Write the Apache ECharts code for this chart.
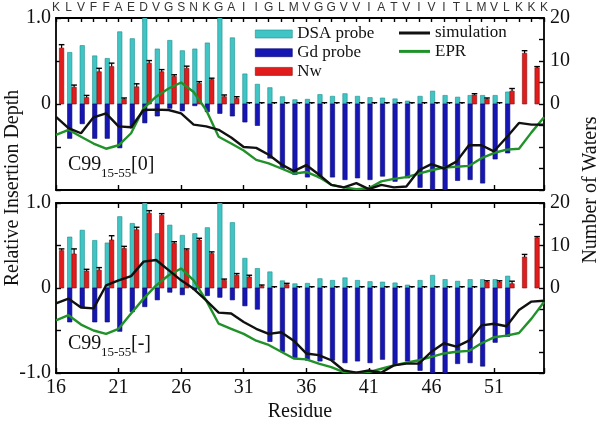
<!DOCTYPE html>
<html><head><meta charset="utf-8">
<script src="https://cdn.jsdelivr.net/npm/echarts@6/dist/echarts.min.js"></script>
<style>html,body{margin:0;padding:0;background:#fff}#c{width:600px;height:425px}</style>
</head><body><div id="c"></div>
<script>
// ---- data (residues 16..55) ----
const residues = [16,17,18,19,20,21,22,23,24,25,26,27,28,29,30,31,32,33,34,35,36,37,38,39,40,41,42,43,44,45,46,47,48,49,50,51,52,53,54,55];
const sequence = ['K','L','V','F','F','A','E','D','V','G','S','N','K','G','A','I','I','G','L','M','V','G','G','V','V','I','A','T','V','I','V','I','T','L','M','V','L','K','K','K'];
const xTickLabels = [16,21,26,31,36,41,46,51];
const leftTickLabelsTop = {'1': '1.0', '0': '0'};
const leftTickLabelsBottom = {'1': '1.0', '0': '0', '-1': '-1.0'};
const rightTickLabels = {'20': '20', '10': '10', '0': '0'};

const dsaProbe = [null,0.60,0.68,0.56,0.53,0.84,0.76,1.0,0.64,0.74,0.62,0.64,0.71,1.0,0.77,0.35,0.23,0.19,0.085,0.05,0.055,0.11,0.09,0.12,0.09,0.075,0.07,0.06,0.035,0.09,0.15,0.10,0.08,0.10,0.10,0.10,0.14,null,null,null];
const gdProbe = [null,-0.40,-0.23,-0.40,-0.40,-0.51,-0.28,-0.22,-0.14,-0.05,-0.08,-0.02,-0.09,-0.11,-0.14,-0.21,-0.25,-0.63,-0.75,-0.82,-0.85,-0.86,-0.85,-0.88,-0.86,-0.88,-0.84,-0.90,-0.86,-0.97,-1.0,-1.0,-0.89,-0.88,-0.92,-0.64,-0.57,null,null,null];

const nwTop = [13.0,3.9,1.5,7.5,8.7,1.1,4.0,9.5,7.5,6.4,8.3,4.8,5.7,1.7,1.3,0,0,0,0,0,0,0,0,0,0,0,0,0,0,0,0,0,0,2.1,1.1,0,3.0,11.8,8.4,null];
const nwTopErr = [0.8,0.5,0.5,0.8,0.8,0.3,0.7,0.6,0.5,0.4,0.5,0.4,0.3,0.4,0.4,0.3,0.3,0.3,0.3,0.3,0.3,0.3,0.3,0.3,0.3,0.3,0.3,0.3,0.3,0.3,0.3,0.3,0.3,0.3,0.3,0.3,0.6,0.6,0.3,null];
const nwBottom = [8.8,8.0,4.0,4.2,11.3,9.3,13.7,17.6,17.1,10.5,8.9,11.3,8.1,1.8,3.0,2.6,0.4,0,0.8,0,0,0,0,0,0,0,0,0,0,0,0,0,0,0,1.4,1.4,1.0,7.3,11.8,null];
const nwBottomErr = [0.4,1.2,0.4,0.6,1.0,0.5,0.6,0.6,0.4,0.4,0.3,0.4,0.4,0.3,0.4,0.4,0.3,0.3,0.3,0.3,0.3,0.3,0.3,0.3,0.3,0.3,0.3,0.3,0.3,0.3,0.3,0.3,0.3,0.3,0.3,0.3,0.6,0.6,0.3,null];

const simTop = [-0.15,-0.28,-0.34,-0.155,-0.11,-0.26,-0.27,-0.07,-0.065,-0.07,-0.11,-0.24,-0.26,-0.30,-0.39,-0.50,-0.51,-0.59,-0.70,-0.78,-0.71,-0.82,-0.94,-0.97,-0.92,-0.99,-0.94,-0.97,-0.96,-0.77,-0.70,-0.75,-0.67,-0.48,-0.48,-0.55,-0.39,-0.22,-0.24,-0.24];
const eprTop = [-0.36,-0.30,-0.38,-0.46,-0.52,-0.48,-0.34,-0.05,0.085,0.18,0.25,0.14,-0.07,-0.38,-0.46,-0.54,-0.65,-0.69,-0.75,-0.81,-0.79,-0.85,-0.94,-0.97,-0.99,-0.98,-0.90,-0.87,-0.85,-0.81,-0.77,-0.74,-0.73,-0.72,-0.63,-0.57,-0.53,-0.52,-0.33,-0.155];
const simBottom = [-0.18,-0.125,-0.23,-0.24,0.03,0.09,0.14,0.31,0.33,0.21,0.09,-0.01,-0.145,-0.29,-0.30,-0.40,-0.48,-0.54,-0.52,-0.62,-0.77,-0.79,-0.85,-0.97,-0.995,-0.97,-0.995,-0.91,-0.89,-0.89,-0.75,-0.65,-0.69,-0.62,-0.44,-0.42,-0.45,-0.26,-0.16,-0.15];
const eprBottom = [-0.38,-0.32,-0.43,-0.50,-0.54,-0.48,-0.30,-0.125,0.03,0.15,0.23,0.09,-0.145,-0.42,-0.48,-0.54,-0.62,-0.67,-0.75,-0.83,-0.84,-0.89,-0.93,-0.99,-0.995,-0.99,-0.95,-0.91,-0.88,-0.85,-0.81,-0.77,-0.75,-0.74,-0.65,-0.58,-0.56,-0.53,-0.36,-0.165];

// ---- styles ----
const SERIF = 'Liberation Serif';
const SANS = 'Liberation Sans';
const CYAN = '#40c4c4', CYAN_EDGE = '#1e8e8e';
const BLUE = '#1616b4', BLUE_EDGE = '#0a0a6e';
const RED = '#e01c1c', RED_EDGE = '#8c0c0c';
const GREEN = '#21922a';
const BAR_W = 4.4, DEPTH_OFF = 1.2, NW_OFF = 5.6;

function pairs(arr) { return residues.map((r, i) => [r, arr[i]]).filter(d => d[1] != null); }
function triples(arr, err) { return residues.map((r, i) => [r, arr[i], err[i]]).filter(d => d[1] != null); }

function depthBar(fill, edge) {
  return function (params, api) {
    const x = api.value(0), v = api.value(1);
    const p0 = api.coord([x, 0]), p1 = api.coord([x, v]);
    const cx = p0[0] + DEPTH_OFF;
    return {type: 'rect', shape: {x: cx - BAR_W / 2, y: Math.min(p0[1], p1[1]), width: BAR_W, height: Math.abs(p1[1] - p0[1])},
      style: {fill: fill, stroke: edge, lineWidth: 0.6}};
  };
}
function nwBar(params, api) {
  const x = api.value(0), v = api.value(1), e = api.value(2);
  const p0 = api.coord([x, 0]), p1 = api.coord([x, v]), p2 = api.coord([x, v + e]);
  const cx = p0[0] + NW_OFF;
  const children = [];
  if (Math.abs(p0[1] - p1[1]) > 0.2) {
    children.push({type: 'rect', shape: {x: cx - BAR_W / 2, y: p1[1], width: BAR_W, height: p0[1] - p1[1]},
      style: {fill: RED, stroke: RED_EDGE, lineWidth: 0.6}});
  }
  children.push({type: 'line', shape: {x1: cx, y1: p1[1], x2: cx, y2: p2[1]}, style: {stroke: '#000', lineWidth: 1.2}});
  children.push({type: 'line', shape: {x1: cx - BAR_W / 2 - 0.6, y1: p2[1], x2: cx + BAR_W / 2 + 0.6, y2: p2[1]}, style: {stroke: '#000', lineWidth: 1.4}});
  return {type: 'group', children: children};
}

const axisLine = {onZero: false, lineStyle: {color: '#000', width: 1.8}};
const tick = (len) => ({inside: true, length: len, lineStyle: {color: '#000', width: 1.4}});

function xBottom(g, show) {
  return {type: 'value', gridIndex: g, position: 'bottom', min: 16, max: 55, interval: 5,
    axisLine: axisLine, axisTick: tick(5), splitLine: {show: false},
    axisLabel: {show: show, margin: 5, fontFamily: SERIF, fontSize: 20, color: '#111',
      formatter: v => xTickLabels.indexOf(v) >= 0 ? String(v) : ''}};
}
function xTop(g, letters) {
  return {type: 'value', gridIndex: g, position: 'top', min: 16, max: 55, interval: letters ? 1 : 5,
    axisLine: axisLine, axisTick: tick(letters ? 4 : 5), splitLine: {show: false},
    axisLabel: {show: letters, margin: 4, fontFamily: SANS, fontSize: 12, color: '#333',
      formatter: v => sequence[residues.indexOf(v)] || ''}};
}
function yLeft(g, labels) {
  return {type: 'value', gridIndex: g, position: 'left', min: -1, max: 1, interval: 0.5,
    axisLine: axisLine, axisTick: tick(5), splitLine: {show: false},
    axisLabel: {margin: 5, fontFamily: SERIF, fontSize: 20, color: '#111', formatter: v => labels[String(v)] || ''}};
}
function yRight(g) {
  return {type: 'value', gridIndex: g, position: 'right', min: -20, max: 20, interval: 5,
    axisLine: axisLine, axisTick: tick(5), splitLine: {show: false},
    axisLabel: {margin: 6, fontFamily: SERIF, fontSize: 20, color: '#111', formatter: v => rightTickLabels[String(v)] || ''}};
}

function panelSeries(g, nw, nwErr, sim, epr) {
  const xa = g * 2, yl = g * 2, yr = g * 2 + 1;
  return [
    {name: 'DSA probe', type: 'custom', xAxisIndex: xa, yAxisIndex: yl, clip: true, z: 2,
      itemStyle: {color: CYAN}, renderItem: depthBar(CYAN, CYAN_EDGE), data: pairs(dsaProbe)},
    {name: 'Gd probe', type: 'custom', xAxisIndex: xa, yAxisIndex: yl, clip: true, z: 2,
      itemStyle: {color: BLUE}, renderItem: depthBar(BLUE, BLUE_EDGE), data: pairs(gdProbe)},
    {name: 'Nw', type: 'custom', xAxisIndex: xa, yAxisIndex: yr, clip: true, z: 3,
      itemStyle: {color: RED}, renderItem: nwBar, data: triples(nw, nwErr)},
    {name: 'simulation', type: 'line', xAxisIndex: xa, yAxisIndex: yl, symbol: 'none', z: 5,
      lineStyle: {color: '#111', width: 2.4}, itemStyle: {color: '#111'}, data: pairs(sim)},
    {name: 'EPR', type: 'line', xAxisIndex: xa, yAxisIndex: yl, symbol: 'none', z: 4,
      lineStyle: {color: GREEN, width: 2.4}, itemStyle: {color: GREEN}, data: pairs(epr)}
  ];
}

const txt = (x, y, text, size, extra) => Object.assign({type: 'text', x: x, y: y, silent: true,
  style: {text: text, fontFamily: SERIF, fontSize: size, fill: '#111', align: 'left', verticalAlign: 'middle'}}, extra || {});

const option = {
  animation: false,
  backgroundColor: '#fff',
  grid: [
    {left: 56, top: 18, width: 488, height: 172},
    {left: 56, top: 203, width: 488, height: 170}
  ],
  xAxis: [xBottom(0, false), xTop(0, true), xBottom(1, true), xTop(1, false)],
  yAxis: [yLeft(0, leftTickLabelsTop), yRight(0), yLeft(1, leftTickLabelsBottom), yRight(1)],
  legend: [
    {left: 255, top: 25, padding: 0, orient: 'vertical', itemWidth: 37, itemHeight: 8, itemGap: 0.7, selectedMode: false,
      textStyle: {fontFamily: SERIF, fontSize: 17, color: '#111', lineHeight: 18},
      data: [
        {name: 'DSA probe', icon: 'rect', itemStyle: {color: CYAN, borderColor: CYAN_EDGE, borderWidth: 0.6}},
        {name: 'Gd probe', icon: 'rect', itemStyle: {color: BLUE, borderColor: BLUE_EDGE, borderWidth: 0.6}},
        {name: 'Nw', icon: 'rect', itemStyle: {color: RED, borderColor: RED_EDGE, borderWidth: 0.6}}
      ]},
    {left: 399, top: 24, padding: 0, orient: 'vertical', itemWidth: 31, itemHeight: 3, itemGap: 0.4, selectedMode: false,
      textStyle: {fontFamily: SERIF, fontSize: 17, color: '#111', lineHeight: 18},
      data: [
        {name: 'simulation', icon: 'rect', itemStyle: {color: '#111'}},
        {name: 'EPR', icon: 'rect', itemStyle: {color: GREEN}}
      ]}
  ],
  graphic: [
    txt(13, 188, 'Relative Insertion Depth', 20, {rotation: Math.PI / 2, style: {text: 'Relative Insertion Depth', fontFamily: SERIF, fontSize: 20, fill: '#111', align: 'center', verticalAlign: 'middle'}}),
    txt(591, 190, 'Number of Waters', 20, {rotation: Math.PI / 2, style: {text: 'Number of Waters', fontFamily: SERIF, fontSize: 20, fill: '#111', align: 'center', verticalAlign: 'middle'}}),
    txt(300, 412, 'Residue', 20, {style: {text: 'Residue', fontFamily: SERIF, fontSize: 20, fill: '#111', align: 'center', verticalAlign: 'middle'}}),
    txt(68, 165, 'C99', 20), txt(101, 174, '15-55', 13), txt(131, 165, '[0]', 20),
    txt(68, 344, 'C99', 20), txt(101, 353, '15-55', 13), txt(131, 344, '[-]', 20)
  ],
  series: [].concat(panelSeries(0, nwTop, nwTopErr, simTop, eprTop), panelSeries(1, nwBottom, nwBottomErr, simBottom, eprBottom))
};
const chart = echarts.init(document.getElementById('c'), null, {renderer: 'canvas'});
chart.setOption(option);
</script></body></html>
